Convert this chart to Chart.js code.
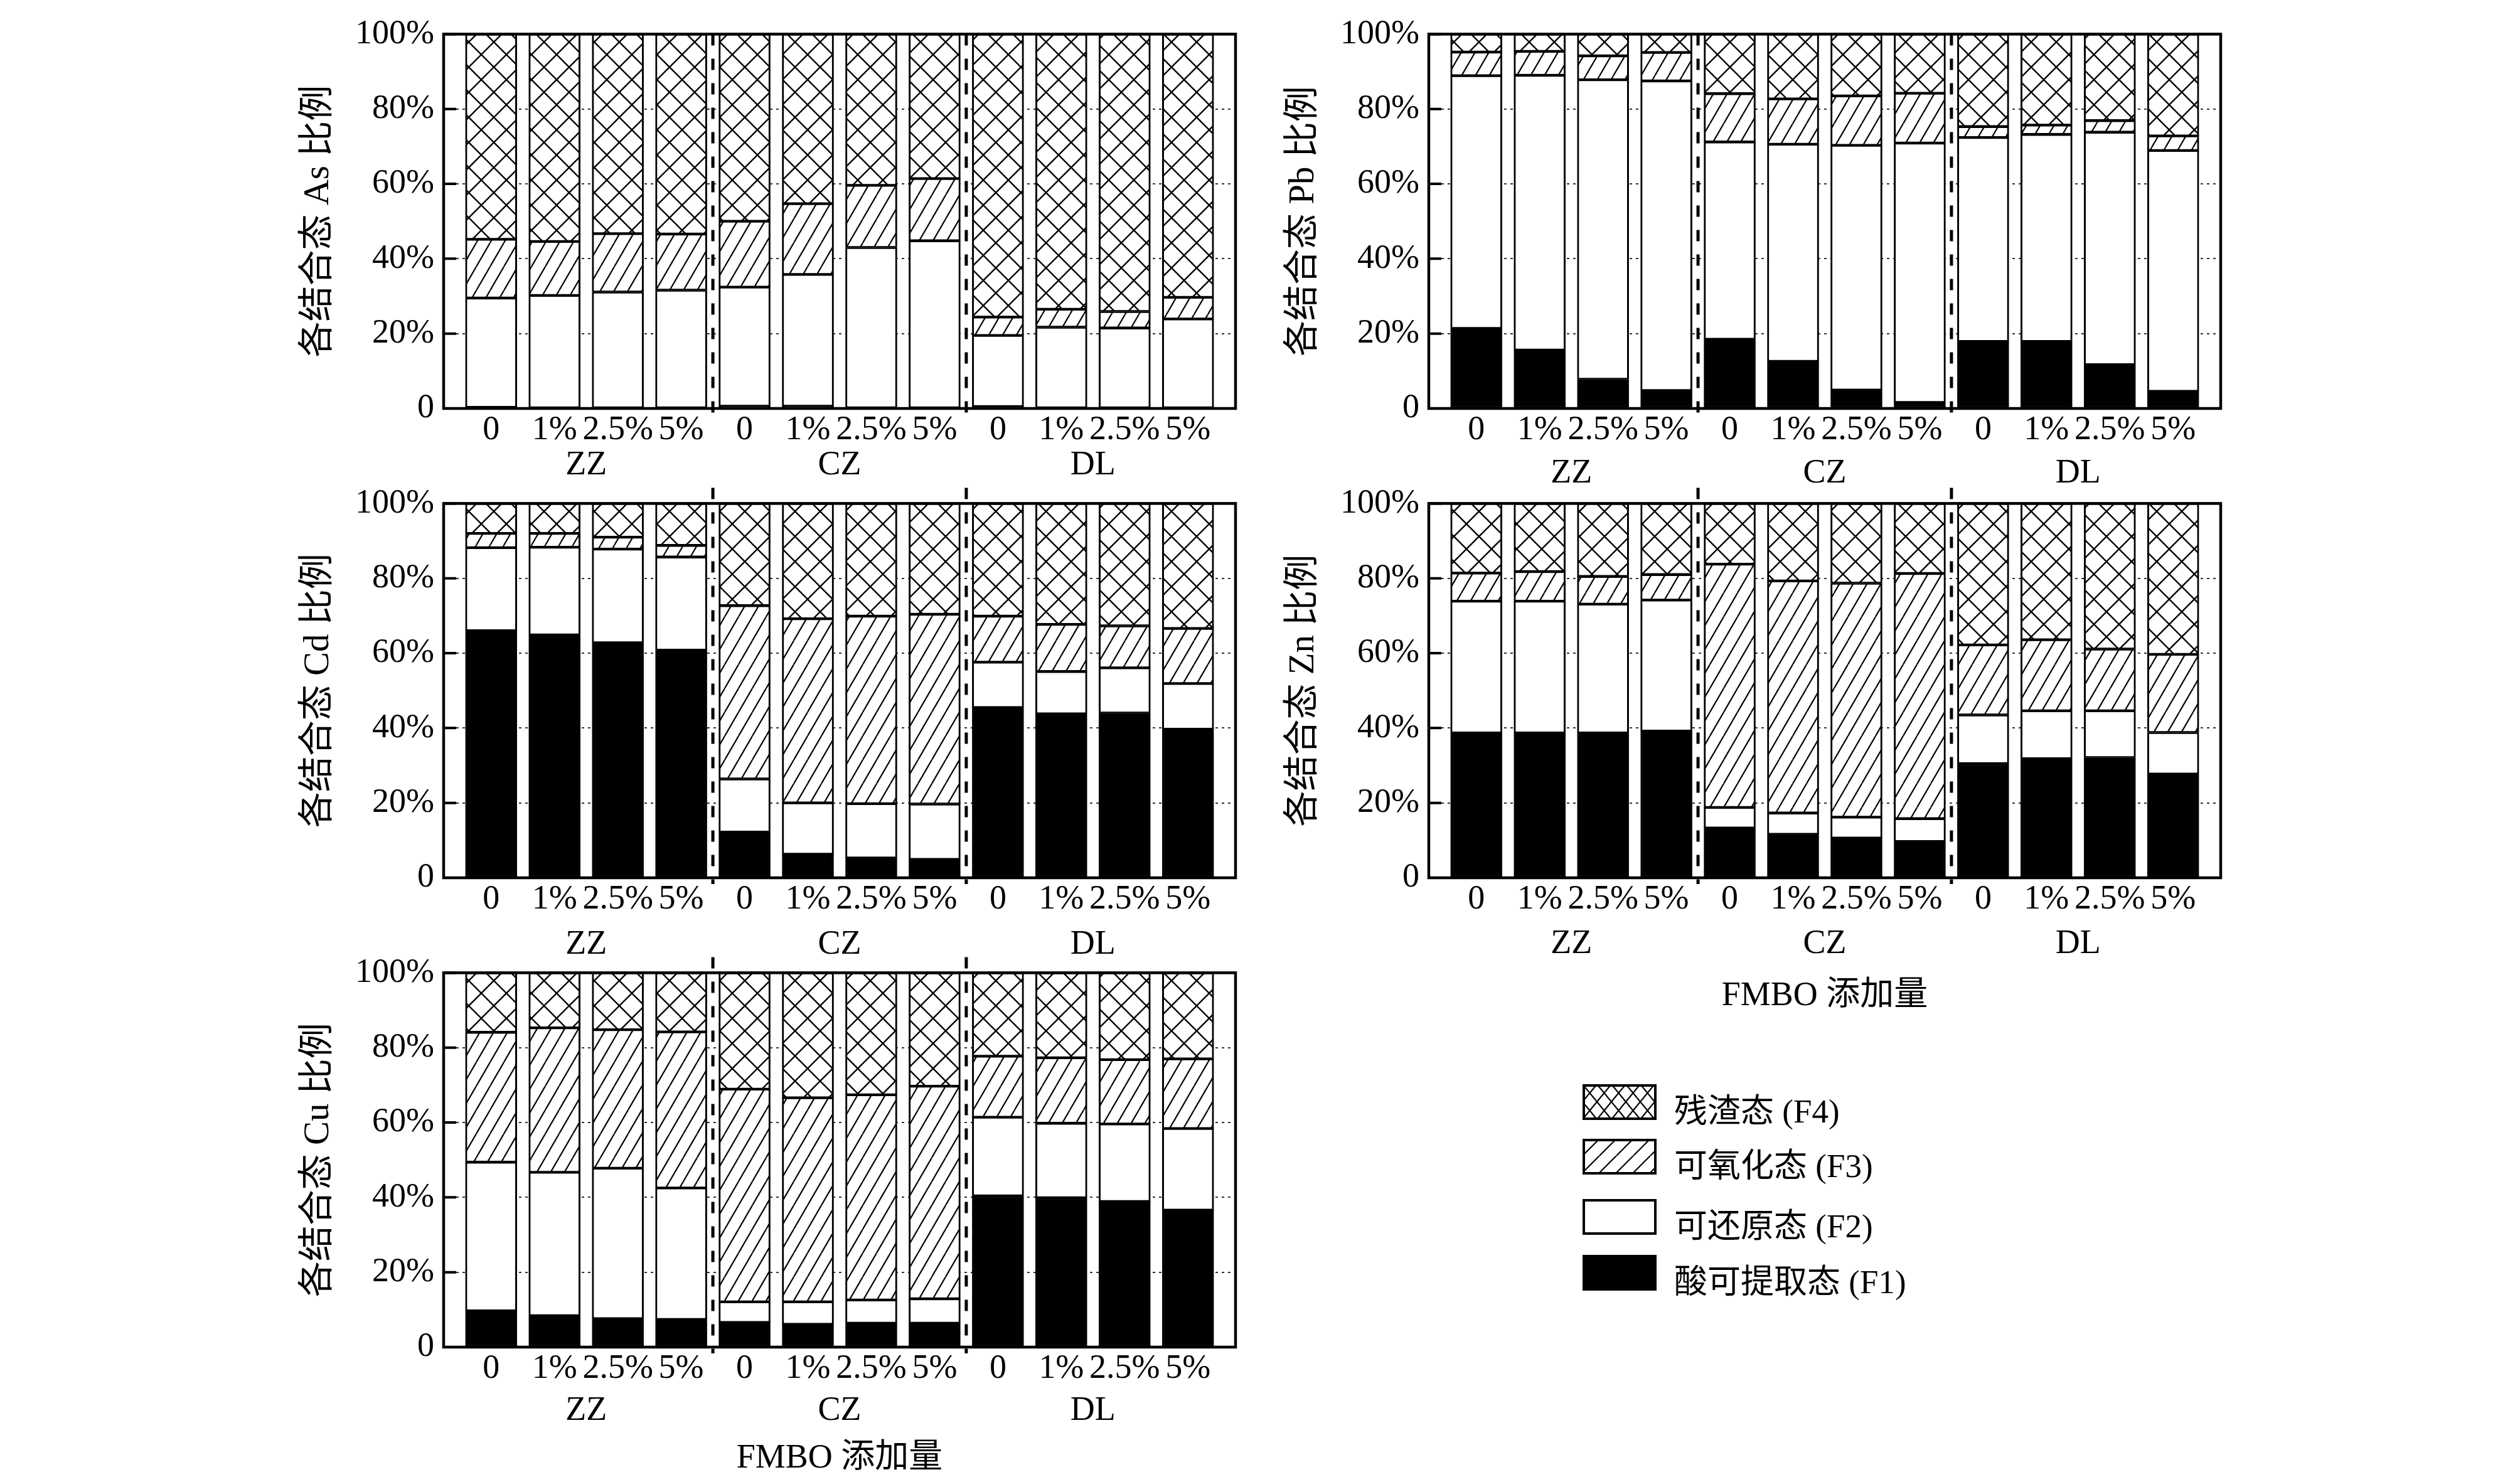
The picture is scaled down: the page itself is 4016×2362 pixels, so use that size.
<!DOCTYPE html>
<html>
<head>
<meta charset="utf-8">
<script src="https://cdn.jsdelivr.net/npm/chart.js@4.4.1/dist/chart.umd.min.js"></script>
<style>
  body { margin: 0; background: #fff; }
  #page { position: relative; width: 4016px; height: 2362px; overflow: hidden; background: #fff; }
  #page canvas { position: absolute; }
  .key { position: absolute; left: 2668px; height: 57px; line-height: 57px; white-space: nowrap;
         font: 53px 'Liberation Serif', 'Noto Sans CJK SC', serif; color: #000; }
</style>
</head>
<body>
<div id="page"></div>
<script>
const doses = ['0', '1%', '2.5%', '5%'];
const soils = ['ZZ', 'CZ', 'DL'];
const yTickLabels = ['0', '20%', '40%', '60%', '80%', '100%'];
const fractionNames = ['酸可提取态 (F1)', '可还原态 (F2)', '可氧化态 (F3)', '残渣态 (F4)'];

// share of each fraction (%), bars: ZZ 0,1,2.5,5% | CZ ... | DL ...
const asF1 = [0.3, 0, 0, 0, 0.6, 0.6, 0, 0, 0.5, 0, 0, 0];
const asF2 = [29.2, 30.2, 31.1, 31.6, 31.8, 35.2, 43.0, 44.8, 19.0, 21.7, 21.5, 23.9];
const asF3 = [15.7, 14.4, 15.6, 15.0, 17.6, 18.9, 16.6, 16.6, 4.9, 4.8, 4.4, 5.8];
const asF4 = [54.8, 55.4, 53.3, 53.4, 50.0, 45.3, 40.4, 38.6, 75.6, 73.5, 74.1, 70.3];

const pbF1 = [21.4, 15.6, 7.8, 4.8, 18.5, 12.6, 4.9, 1.6, 17.9, 17.9, 11.7, 4.6];
const pbF2 = [67.5, 73.4, 80.0, 82.7, 52.7, 58.0, 65.4, 69.3, 54.5, 55.3, 62.1, 64.3];
const pbF3 = [6.3, 6.4, 6.4, 7.6, 12.9, 12.1, 13.2, 13.3, 2.9, 2.5, 3.1, 3.9];
const pbF4 = [4.8, 4.6, 5.8, 4.9, 15.9, 17.3, 16.5, 15.8, 24.7, 24.3, 23.1, 27.2];

const cdF1 = [66.0, 64.9, 62.8, 60.8, 12.2, 6.3, 5.3, 4.9, 45.5, 43.8, 44.0, 39.7];
const cdF2 = [22.2, 23.4, 25.0, 24.9, 14.2, 13.7, 14.5, 14.8, 12.1, 11.3, 12.1, 12.2];
const cdF3 = [3.8, 3.7, 3.2, 3.1, 46.3, 49.2, 50.1, 50.7, 12.3, 12.6, 11.2, 14.7];
const cdF4 = [8.0, 8.0, 9.0, 11.2, 27.3, 30.8, 30.1, 29.6, 30.1, 32.3, 32.7, 33.4];

const znF1 = [38.7, 38.7, 38.7, 39.2, 13.3, 11.6, 10.6, 9.7, 30.5, 31.8, 32.1, 27.7];
const znF2 = [35.2, 35.2, 34.4, 35.0, 5.5, 5.7, 5.6, 6.1, 13.0, 12.8, 12.5, 11.1];
const znF3 = [7.5, 7.9, 7.4, 6.8, 65.0, 62.0, 62.5, 65.5, 18.7, 19.0, 16.5, 20.9];
const znF4 = [18.6, 18.2, 19.5, 19.0, 16.2, 20.7, 21.3, 18.7, 37.8, 36.4, 38.9, 40.3];

const cuF1 = [9.7, 8.4, 7.6, 7.4, 6.6, 6.1, 6.4, 6.4, 40.4, 39.9, 38.9, 36.6];
const cuF2 = [39.7, 38.3, 40.2, 35.1, 5.5, 6.0, 6.2, 6.5, 21.0, 19.9, 20.7, 21.8];
const cuF3 = [34.7, 38.6, 37.0, 41.7, 56.8, 54.5, 54.8, 56.8, 16.3, 17.5, 17.2, 18.6];
const cuF4 = [15.9, 14.7, 15.2, 15.8, 31.1, 33.4, 32.6, 30.3, 22.3, 22.7, 23.2, 23.0];

const serif = "'Liberation Serif', 'Noto Sans CJK SC', serif";
Chart.defaults.font.family = serif;
Chart.defaults.color = '#000';

const page = document.getElementById('page');

function hatch(w, h, cross, lw) {
  const c = document.createElement('canvas');
  c.width = w; c.height = h;
  const g = c.getContext('2d');
  g.fillStyle = '#fff';
  g.fillRect(0, 0, w, h);
  g.strokeStyle = '#000';
  g.lineWidth = lw;
  g.beginPath();
  for (const dx of [-w, 0, w]) {
    g.moveTo(dx, h); g.lineTo(dx + w, 0);
    if (cross) { g.moveTo(dx, 0); g.lineTo(dx + w, h); }
  }
  g.stroke();
  return g.createPattern(c, 'repeat');
}

const fills = ['#000', '#fff', hatch(22, 38, false, 2.2), hatch(40, 40, true, 2.4)];
const keyFills = ['#000', '#fff', hatch(27, 27, false, 2.2), hatch(23, 28, true, 2.2)];

const nBars = soils.length * doses.length;
const barIdx = Array.from({length: nBars}, (_, i) => i);

const framePlugin = {
  id: 'frame',
  beforeDatasetsDraw(chart, args, opts) {
    const {ctx, chartArea: a, scales: {y}} = chart;
    ctx.save();
    ctx.strokeStyle = '#000';
    ctx.lineWidth = 4;
    ctx.beginPath();
    y.ticks.forEach(t => {
      const py = y.getPixelForValue(t.value);
      ctx.moveTo(a.left, py); ctx.lineTo(a.left + 20, py);
    });
    ctx.stroke();
    ctx.restore();
  },
  afterDatasetsDraw(chart, args, opts) {
    const {ctx, chartArea: a, scales: {x}} = chart;
    ctx.save();
    ctx.strokeStyle = '#000';
    ctx.lineWidth = 5;
    ctx.setLineDash([18, 21]);
    ctx.beginPath();
    for (let k = 1; k < soils.length; k++) {
      const px = x.getPixelForValue(k * doses.length - 0.5);
      ctx.moveTo(px, a.top - opts.topExt);
      ctx.lineTo(px, a.bottom + 10);
    }
    ctx.stroke();
    ctx.setLineDash([]);
    ctx.lineWidth = 4.5;
    ctx.strokeRect(a.left, a.top, a.right - a.left, a.bottom - a.top);
    ctx.restore();
  }
};

function makePanel(p) {
  const padT = 40, padR = 40, padB = 10, yw = 300, plotW = 1262, plotH = 604;
  const h1 = p.groupGap - 34;
  const h2 = p.xTitle ? p.titleGap - h1 + 32 : 60;
  const w = yw + plotW + padR, h = padT + plotH + h1 + h2 + padB;
  const cv = document.createElement('canvas');
  cv.width = w; cv.height = h;
  cv.style.width = w + 'px'; cv.style.height = h + 'px';
  cv.style.left = (p.left - yw) + 'px';
  cv.style.top = (p.top - padT) + 'px';
  page.appendChild(cv);

  const xRange = {min: -0.75, max: nBars - 0.25, bounds: 'data', offset: false};

  new Chart(cv, {
    type: 'bar',
    data: {
      datasets: p.series.map((vals, s) => ({
        label: fractionNames[s],
        data: vals.map((v, i) => ({x: i, y: v})),
        backgroundColor: fills[s],
        borderColor: '#000',
        borderWidth: {top: 2.5, bottom: 2.5, left: 3, right: 3},
        borderSkipped: false,
        barThickness: 82
      }))
    },
    options: {
      responsive: false,
      devicePixelRatio: 1,
      animation: false,
      events: [],
      layout: { padding: {top: padT, right: padR, bottom: padB, left: 0} },
      plugins: {
        legend: { display: false },
        tooltip: { enabled: false },
        frame: { topExt: p.topExt }
      },
      scales: {
        x: {
          type: 'linear', stacked: true, weight: 0, ...xRange,
          afterFit: s => { s.height = h1; },
          afterBuildTicks: s => { s.ticks = barIdx.map(v => ({value: v})); },
          ticks: {
            autoSkip: false, maxRotation: 0, minRotation: 0, padding: 2,
            font: {size: 54},
            callback: (v, i) => doses[i % doses.length]
          },
          grid: { display: false, drawTicks: false, offset: false },
          border: { display: false }
        },
        x2: {
          type: 'linear', position: 'bottom', weight: 1, ...xRange,
          afterFit: s => { s.height = h2; },
          afterBuildTicks: s => {
            s.ticks = soils.map((_, k) => ({value: k * doses.length + (doses.length - 1) / 2}));
          },
          ticks: {
            autoSkip: false, maxRotation: 0, minRotation: 0, padding: 0,
            font: {size: 54},
            callback: (v, i) => soils[i]
          },
          grid: { display: false, drawTicks: false, offset: false },
          border: { display: false },
          title: { display: !!p.xTitle, text: p.xTitle || '', font: {size: 54}, padding: 0 }
        },
        y: {
          stacked: true, min: 0, max: 100,
          afterFit: s => { s.width = yw; },
          ticks: {
            stepSize: 20, padding: 15, font: {size: 54},
            callback: (v, i) => yTickLabels[i]
          },
          grid: { color: '#333', lineWidth: 2, drawTicks: false },
          border: { display: false, dash: [4, 6] },
          title: {
            display: true, text: '各结合态 ' + p.el + ' 比例',
            font: {size: 57}, padding: {top: 67, bottom: 0}
          }
        }
      }
    },
    plugins: [framePlugin]
  });
}

const panels = [
  {el: 'As', left: 707, top: 47, groupGap: 92, topExt: 0, series: [asF1, asF2, asF3, asF4]},
  {el: 'Pb', left: 2277, top: 47, groupGap: 105, topExt: 0, series: [pbF1, pbF2, pbF3, pbF4]},
  {el: 'Cd', left: 707, top: 795, groupGap: 108, topExt: 25, series: [cdF1, cdF2, cdF3, cdF4]},
  {el: 'Zn', left: 2277, top: 795, groupGap: 107, topExt: 25, xTitle: 'FMBO 添加量', titleGap: 189,
   series: [znF1, znF2, znF3, znF4]},
  {el: 'Cu', left: 707, top: 1543, groupGap: 103, topExt: 25, xTitle: 'FMBO 添加量', titleGap: 178,
   series: [cuF1, cuF2, cuF3, cuF4]}
];
panels.forEach(makePanel);

// legend, top row is F4
const keyTops = [1728, 1815, 1911, 2000];
[3, 2, 1, 0].forEach((s, row) => {
  const sw = document.createElement('canvas');
  sw.width = 118; sw.height = 57;
  sw.style.left = '2522px';
  sw.style.top = keyTops[row] + 'px';
  const g = sw.getContext('2d');
  g.fillStyle = keyFills[s];
  g.fillRect(0, 0, 118, 57);
  g.strokeStyle = '#000';
  g.lineWidth = 4;
  g.strokeRect(2, 2, 114, 53);
  page.appendChild(sw);
  const t = document.createElement('div');
  t.className = 'key';
  t.style.top = keyTops[row] + 'px';
  t.textContent = fractionNames[s];
  page.appendChild(t);
});
</script>
</body>
</html>
